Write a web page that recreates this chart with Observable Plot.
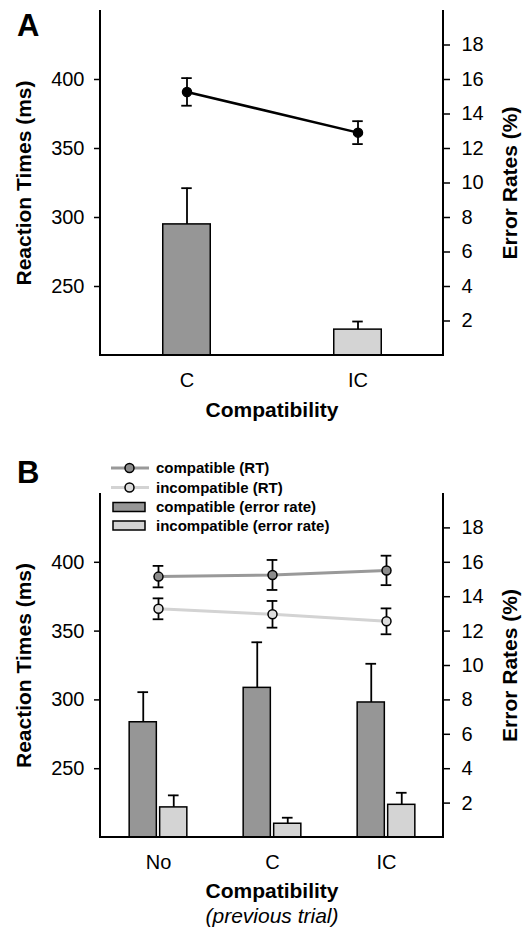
<!DOCTYPE html>
<html><head><meta charset="utf-8">
<script src="https://cdn.jsdelivr.net/npm/d3@7"></script>
<script src="https://cdn.jsdelivr.net/npm/@observablehq/plot@0.6"></script>
<style>
html,body{margin:0;padding:0;background:#fff;}
#wrap{position:relative;width:524px;height:935px;overflow:hidden;}
#wrap svg{display:block;}
#overlay{position:absolute;left:0;top:0;pointer-events:none;}
</style></head>
<body><div id="wrap"><div id="pa"></div><div id="pb"></div></div>
<script>
// ---------- data ----------
const compatA = ["C", "IC"];
const rtA = [391, 361.5];
const rtSeA = [10, 8.3];
const errA = [7.6, 1.5];
const errSeA = [2.1, 0.47];

const prevB = ["No", "C", "IC"];
const rtCompB = [389.6, 390.8, 394.1];
const rtCompSeB = [7.8, 10.9, 10.7];
const rtIncB = [366.2, 362.2, 357.1];
const rtIncSeB = [7.6, 9.7, 9.4];
const errCompB = [6.7, 8.7, 7.85];
const errCompSeB = [1.75, 2.65, 2.25];
const errIncB = [1.75, 0.8, 1.9];
const errIncSeB = [0.7, 0.35, 0.7];

const rtTicks = [250, 300, 350, 400];
const errTicks = [2, 4, 6, 8, 10, 12, 14, 16, 18];
const legendLabels = ["compatible (RT)", "incompatible (RT)", "compatible (error rate)", "incompatible (error rate)"];

// ---------- scales & style ----------
const RT_MIN = 200, RT_MAX = 450, ERR_MAX = 20;
const MS_PER_PCT = (RT_MAX - RT_MIN) / ERR_MAX;
const toRT = e => RT_MIN + e * MS_PER_PCT;
const FONT = "'Liberation Sans', Arial, Helvetica, sans-serif";
const W = 524, ML = 100, MR = 81;
const DARK = "#969696", LIGHT = "#d4d4d4";
const LINE_C = "#999999", LINE_I = "#d3d3d3", DOT_C = "#8c8c8c", DOT_I = "#dcdcdc";
const CAP = 11;

function frameLines(index, scales, values, dims) {
  const {width, height, marginLeft, marginRight, marginTop, marginBottom} = dims;
  const g = d3.create("svg:g").attr("stroke", "black").attr("stroke-width", 2).attr("fill", "none");
  const x0 = marginLeft, x1 = width - marginRight, y0 = marginTop, y1 = height - marginBottom;
  g.append("line").attr("x1", x0).attr("x2", x0).attr("y1", y0).attr("y2", y1);
  g.append("line").attr("x1", x1).attr("x2", x1).attr("y1", y0).attr("y2", y1);
  g.append("line").attr("x1", x0 - 1).attr("x2", x1 + 1).attr("y1", y1).attr("y2", y1);
  return g.node();
}

function commonMarks() {
  return [
    Plot.axisY({anchor: "left", ticks: rtTicks, tickSize: 6, tickPadding: 10, strokeWidth: 1.5, label: null}),
    Plot.axisY({anchor: "right", ticks: errTicks.map(toRT), tickFormat: d => `${Math.round((d - RT_MIN) / MS_PER_PCT)}`,
      tickSize: 6, tickPadding: 12, strokeWidth: 1.5, label: null}),
    Plot.axisX({anchor: "bottom", tickSize: 0, tickPadding: 17, label: null}),
    Plot.text(["Reaction Times (ms)"], {text: d => d, frameAnchor: "left", textAnchor: "middle", rotate: -90, dx: -76, fontWeight: "bold", fontSize: 21}),
    Plot.text(["Error Rates (%)"], {text: d => d, frameAnchor: "right", textAnchor: "middle", rotate: -90, dx: 67, fontWeight: "bold", fontSize: 21})
  ];
}

// ---------- Panel A ----------
const tableA = compatA.map((c, i) => ({cond: c, rt: rtA[i], rtSe: rtSeA[i], err: errA[i], errSe: errSeA[i]}));
const bwA = (W - ML - MR) / compatA.length;
const plotA = Plot.plot({
  width: W, height: 435,
  marginTop: 10, marginBottom: 80, marginLeft: ML, marginRight: MR,
  style: {fontFamily: FONT, fontSize: "20px", color: "black", background: "transparent"},
  x: {type: "band", domain: compatA, padding: 0},
  y: {domain: [RT_MIN, RT_MAX]},
  marks: [
    ...commonMarks(),
    Plot.ruleX(tableA, {x: "cond", y1: d => toRT(d.err), y2: d => toRT(d.err + d.errSe), stroke: "black", strokeWidth: 1.8}),
    Plot.tickY(tableA, {x: "cond", y: d => toRT(d.err + d.errSe), stroke: "black", strokeWidth: 1.8, insetLeft: (bwA - CAP) / 2, insetRight: (bwA - CAP) / 2}),
    Plot.barY(tableA, {x: "cond", y1: () => RT_MIN, y2: d => toRT(d.err), fill: (d, i) => i === 0 ? DARK : LIGHT, stroke: "black", strokeWidth: 1.5,
      insetLeft: (bwA - 48) / 2, insetRight: (bwA - 48) / 2}),
    Plot.line(tableA, {x: "cond", y: "rt", stroke: "black", strokeWidth: 2.5}),
    Plot.ruleX(tableA, {x: "cond", y1: d => d.rt - d.rtSe, y2: d => d.rt + d.rtSe, stroke: "black", strokeWidth: 1.8}),
    Plot.tickY(tableA, {x: "cond", y: d => d.rt - d.rtSe, stroke: "black", strokeWidth: 1.8, insetLeft: (bwA - CAP) / 2, insetRight: (bwA - CAP) / 2}),
    Plot.tickY(tableA, {x: "cond", y: d => d.rt + d.rtSe, stroke: "black", strokeWidth: 1.8, insetLeft: (bwA - CAP) / 2, insetRight: (bwA - CAP) / 2}),
    Plot.dot(tableA, {x: "cond", y: "rt", r: 4.5, fill: "black", stroke: "black"}),
    Plot.text(["Compatibility"], {text: d => d, frameAnchor: "bottom", dy: 61, fontWeight: "bold", fontSize: 21}),
    frameLines
  ]
});
document.getElementById("pa").appendChild(plotA);

// ---------- Panel B ----------
const compB = prevB.map((c, i) => ({cond: c, rt: rtCompB[i], rtSe: rtCompSeB[i], err: errCompB[i], errSe: errCompSeB[i]}));
const incB = prevB.map((c, i) => ({cond: c, rt: rtIncB[i], rtSe: rtIncSeB[i], err: errIncB[i], errSe: errIncSeB[i]}));
const bwB = (W - ML - MR) / prevB.length;
const BAR_W = 27.5, GAP = 3, OFF = GAP / 2 + BAR_W / 2;
const capIn = (bwB - CAP) / 2;

function barSeries(table, fill, side) {
  const inL = side < 0 ? bwB / 2 - GAP / 2 - BAR_W : bwB / 2 + GAP / 2;
  const inR = side < 0 ? bwB / 2 + GAP / 2 : bwB / 2 - GAP / 2 - BAR_W;
  return [
    Plot.ruleX(table, {x: "cond", y1: d => toRT(d.err), y2: d => toRT(d.err + d.errSe), dx: side * OFF, stroke: "black", strokeWidth: 1.8}),
    Plot.tickY(table, {x: "cond", y: d => toRT(d.err + d.errSe), dx: side * OFF, stroke: "black", strokeWidth: 1.8, insetLeft: capIn, insetRight: capIn}),
    Plot.barY(table, {x: "cond", y1: () => RT_MIN, y2: d => toRT(d.err), fill, stroke: "black", strokeWidth: 1.5, insetLeft: inL, insetRight: inR})
  ];
}
function rtSeries(table, lineColor) {
  return [
    Plot.line(table, {x: "cond", y: "rt", stroke: lineColor, strokeWidth: 3})
  ];
}
function rtErr(table, dotColor) {
  return [
    Plot.ruleX(table, {x: "cond", y1: d => d.rt - d.rtSe, y2: d => d.rt + d.rtSe, stroke: "black", strokeWidth: 1.8}),
    Plot.tickY(table, {x: "cond", y: d => d.rt - d.rtSe, stroke: "black", strokeWidth: 1.8, insetLeft: capIn, insetRight: capIn}),
    Plot.tickY(table, {x: "cond", y: d => d.rt + d.rtSe, stroke: "black", strokeWidth: 1.8, insetLeft: capIn, insetRight: capIn}),
    Plot.dot(table, {x: "cond", y: "rt", r: 4.5, fill: dotColor, stroke: "black", strokeWidth: 1.5})
  ];
}

const plotB = Plot.plot({
  width: W, height: 500,
  marginTop: 58, marginBottom: 98, marginLeft: ML, marginRight: MR,
  style: {fontFamily: FONT, fontSize: "20px", color: "black", background: "transparent"},
  x: {type: "band", domain: prevB, padding: 0},
  y: {domain: [RT_MIN, RT_MAX]},
  marks: [
    ...commonMarks(),
    ...barSeries(compB, DARK, -1),
    ...barSeries(incB, LIGHT, 1),
    ...rtSeries(compB, LINE_C),
    ...rtSeries(incB, LINE_I),
    ...rtErr(compB, DOT_C),
    ...rtErr(incB, DOT_I),
    Plot.text(["Compatibility"], {text: d => d, frameAnchor: "bottom", dy: 60, fontWeight: "bold", fontSize: 21}),
    Plot.text(["(previous trial)"], {text: d => d, frameAnchor: "bottom", dy: 85, fontStyle: "italic", fontSize: 21}),
    frameLines
  ]
});
document.getElementById("pb").appendChild(plotB);

// ---------- overlay: panel letters + legend ----------
const ov = d3.select("#wrap").append("svg").attr("id", "overlay").attr("width", W).attr("height", 935)
  .style("font-family", FONT);
ov.append("text").attr("x", 17).attr("y", 36).attr("font-size", 31).attr("font-weight", "bold").text("A");
ov.append("text").attr("x", 17).attr("y", 483).attr("font-size", 31).attr("font-weight", "bold").text("B");

const legendItems = [
  {label: legendLabels[0], kind: "line", line: LINE_C, fill: DOT_C},
  {label: legendLabels[1], kind: "line", line: LINE_I, fill: DOT_I},
  {label: legendLabels[2], kind: "rect", fill: DARK},
  {label: legendLabels[3], kind: "rect", fill: LIGHT}
];
const rowY = [468, 487.5, 507, 525.5];
legendItems.forEach((it, i) => {
  const g = ov.append("g").attr("transform", `translate(0,${rowY[i]})`);
  if (it.kind === "line") {
    g.append("line").attr("x1", 111).attr("x2", 149).attr("y1", 0).attr("y2", 0).attr("stroke", it.line).attr("stroke-width", 3);
    g.append("circle").attr("cx", 129.5).attr("cy", 0).attr("r", 4.5).attr("fill", it.fill).attr("stroke", "black").attr("stroke-width", 1.5);
  } else {
    g.append("rect").attr("x", 113).attr("y", -4.5).attr("width", 32).attr("height", 9).attr("fill", it.fill).attr("stroke", "black").attr("stroke-width", 1.5);
  }
  g.append("text").attr("x", 156).attr("y", 0).attr("dy", "0.35em").attr("font-size", 15).attr("font-weight", "bold").text(it.label);
});
</script>
</body></html>
